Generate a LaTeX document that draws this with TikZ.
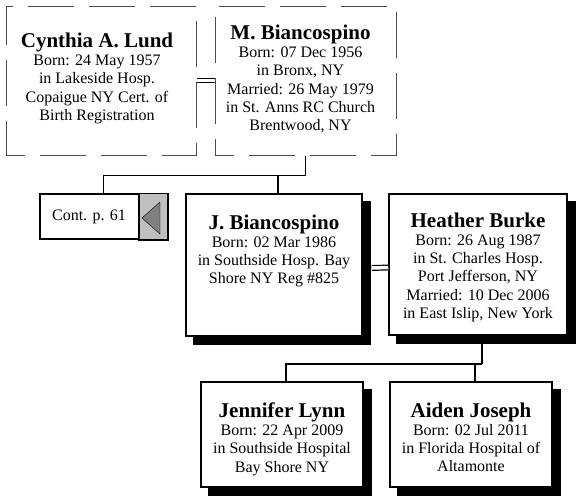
\documentclass[tikz,border=0pt]{standalone}
\usepackage{fontspec}
\setmainfont{Liberation Serif}
\usetikzlibrary{positioning,backgrounds}
\newcommand{\pname}[1]{{\fontsize{21}{19}\selectfont\bfseries #1}}
\begin{document}
\begin{tikzpicture}[x=1pt,y=-1pt,
  person/.style={draw,line width=1.5pt,fill=white,inner sep=0pt},
  spouse/.style={draw=black!70,line width=1pt,dash pattern=on 46pt off 15pt,
    dash phase=27pt,inner sep=0pt},
  info/.style={align=center,inner sep=0pt,font=\fontsize{16}{18.3}\selectfont},
  link/.style={line width=1.6pt},
  wed/.style={double,line width=1.2pt,double distance=3.5pt}]
  \useasboundingbox (0,0) rectangle (581,499);
  \node[spouse,minimum width=190pt,minimum height=149pt] (cyn) at (101,80.5) {};
  \node[spouse,minimum width=181pt,minimum height=149pt] (mb) at (305.5,80.5) {};
  \node[info,anchor=north] (cyn-txt) at ([xshift=-4pt,yshift=-27pt]cyn.north)
    {\pname{Cynthia A. Lund}\\Born: 24 May 1957\\in Lakeside Hosp.\\Copaigue NY Cert. of\\Birth Registration};
  \node[info,anchor=north] (mb-txt) at ([xshift=-5pt,yshift=-19pt]mb.north)
    {\pname{M. Biancospino}\\Born: 07 Dec 1956\\in Bronx, NY\\Married: 26 May 1979\\in St. Anns RC Church\\Brentwood, NY};
  \draw[wed] (cyn.east) -- (mb.west);
  \node[draw,line width=1.5pt,fill=white,minimum width=127pt,minimum height=45pt,inner sep=0pt] (cont) at (103.5,216.5) {};
  \draw[line width=1.5pt,fill=black!25] ([xshift=-29pt]cont.north east) rectangle (cont.south east);
  \draw[fill=black!50] (142,218) -- (160,202) -- (160,234) -- cycle;
  \node[info] (cont-txt) at (89,216.5) {Cont. p. 61};
  \node[person,minimum width=176pt,minimum height=142pt] (jb) at (274,265) {};
  \node[person,minimum width=178pt,minimum height=141pt] (hb) at (478,264.5) {};
  \node[info,below=21pt of jb.north] (jb-txt)
    {\pname{J. Biancospino}\\Born: 02 Mar 1986\\in Southside Hosp. Bay\\Shore NY Reg \#825};
  \node[info,below=19pt of hb.north] (hb-txt)
    {\pname{Heather Burke}\\Born: 26 Aug 1987\\in St. Charles Hosp.\\Port Jefferson, NY\\Married: 10 Dec 2006\\in East Islip, New York};
  \draw[wed] ([xshift=9pt,yshift=-3pt]jb.east) -- ([yshift=-3pt]hb.west);
  \draw[link] (mb.south) -- ++(0,20) coordinate (fam1);
  \draw[link] (cont.north) |- (fam1);
  \draw[link] ([xshift=4pt]jb.north) -- ([xshift=4pt]jb.north |- fam1);
  \node[person,minimum width=162pt,minimum height=105pt] (jl) at (282,434.5) {};
  \node[person,minimum width=162pt,minimum height=105pt] (aj) at (471,434.5) {};
  \node[info,below=21pt of jl.north] (jl-txt)
    {\pname{Jennifer Lynn}\\Born: 22 Apr 2009\\in Southside Hospital\\Bay Shore NY};
  \node[info,below=21pt of aj.north] (aj-txt)
    {\pname{Aiden Joseph}\\Born: 02 Jul 2011\\in Florida Hospital of\\Altamonte};
  \draw[link] ([xshift=4pt]hb.south) -- ++(0,28) coordinate (fam2);
  \draw[link] ([xshift=4pt]jl.north) |- (fam2);
  \draw[link] ([xshift=4pt]aj.north) -- ([xshift=4pt]aj.north |- fam2);
  \begin{scope}[on background layer]
    \foreach \p in {jb,hb,jl,aj}
      \fill ([shift={(8pt,-8pt)}]\p.south west) rectangle ([shift={(8pt,-8pt)}]\p.north east);
  \end{scope}
\end{tikzpicture}
\end{document}
